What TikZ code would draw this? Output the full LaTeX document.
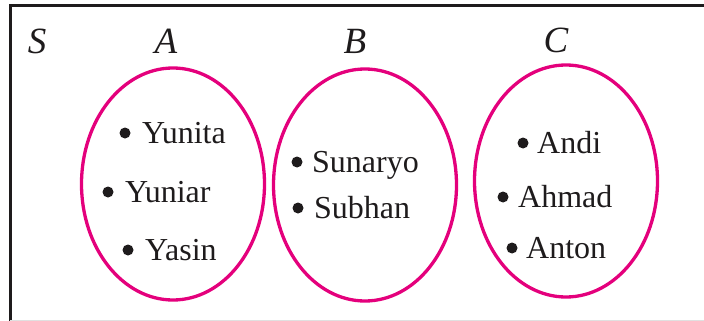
\documentclass[tikz,border=0pt]{standalone}
\usepackage{fontspec}
\setmainfont{Liberation Serif}
\usetikzlibrary{shapes.geometric}
\definecolor{setpink}{RGB}{228,0,124}
\definecolor{ink}{RGB}{30,27,28}
\begin{document}
\begin{tikzpicture}[x=1pt,y=-1pt,
  setring/.style={draw=setpink,line width=3.3pt,ellipse,inner sep=0pt,
                  minimum width=183pt,minimum height=232pt},
  setlabel/.style={font=\fontsize{37}{37}\selectfont\itshape,text=ink,
                   anchor=base,inner sep=0pt},
  member/.style={font=\fontsize{32}{32}\selectfont,text=ink,
                 anchor=base west,inner sep=0pt},
  dot/.style={circle,fill=ink,inner sep=0pt,minimum size=11pt}]
\useasboundingbox (0,0) rectangle (704,321);

% universal set frame (top and left edges)
\draw[ink,line width=3pt] (10,321) -- (10,6) -- (704,6);
\draw[black!12,line width=1pt] (10,320) -- (704,320);

% the three sets
\node[setring] (A) at (173,184) {};
\node[setring] (B) at (365,185) {};
\node[setring] (C) at (566,181) {};

% set names
\node[setlabel] (S) at (37,54) {S};
\node[setlabel] (lA) at (166,54) {A};
\node[setlabel] (lB) at (355,54) {B};
\node[setlabel] (lC) at (556,53) {C};

% members of A
\node[dot] (d1) at (125,133) {};
\node[member] (yunita) at (142,143) {Yunita};
\node[dot] (d2) at (108,192) {};
\node[member] (yuniar) at (125,202) {Yuniar};
\node[dot] (d3) at (128,250) {};
\node[member] (yasin) at (145,260) {Yasin};

% members of B
\node[dot] (d4) at (297,162) {};
\node[member] (sunaryo) at (312,172) {Sunaryo};
\node[dot] (d5) at (298,208) {};
\node[member] (subhan) at (314,218) {Subhan};

% members of C
\node[dot] (d6) at (523,143) {};
\node[member] (andi) at (537,153) {Andi};
\node[dot] (d7) at (503,197) {};
\node[member] (ahmad) at (518,207) {Ahmad};
\node[dot] (d8) at (512,248) {};
\node[member] (anton) at (526,258) {Anton};
\end{tikzpicture}
\end{document}
